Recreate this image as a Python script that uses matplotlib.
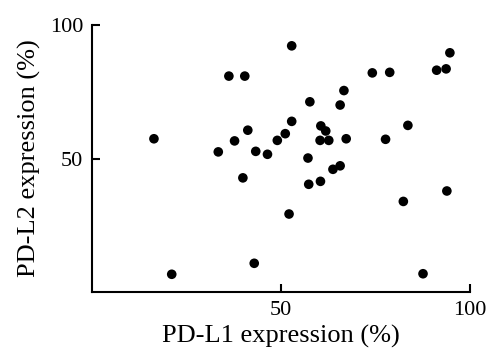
import matplotlib
matplotlib.use("Agg")
import matplotlib.pyplot as plt

pdl1 = [16.5, 36.3, 40.5, 41.3, 37.8, 33.5, 40.0, 52.9, 74.2, 78.8, 91.2, 93.7, 94.7,
        66.7, 57.7, 65.7, 52.9, 51.2, 49.1, 43.4, 46.5, 60.6, 61.9, 60.4, 62.7, 67.3,
        83.6, 77.7, 57.2, 65.7, 63.8, 57.4, 60.5, 93.9, 82.4, 52.2, 43.0, 87.6, 21.2]
pdl2 = [57.4, 80.8, 80.8, 60.6, 56.6, 52.5, 42.8, 92.1, 82.0, 82.2, 83.0, 83.5, 89.5,
        75.4, 71.2, 70.0, 63.9, 59.3, 56.8, 52.7, 51.6, 62.2, 60.3, 56.8, 56.8, 57.4,
        62.4, 57.2, 50.2, 47.3, 46.0, 40.4, 41.5, 37.9, 34.0, 29.3, 10.9, 7.0, 6.8]
ticks = [50, 100]

plt.rcParams['font.family'] = ['Liberation Serif', 'DejaVu Serif']

fig = plt.figure(figsize=(4.88, 3.51), dpi=100)
ax = fig.add_axes([0.1875, 0.1667, 0.7755, 0.763])
ax.scatter(pdl1, pdl2, s=48, c='black', edgecolors='none', zorder=3)
ax.set_xlim(0, 100)
ax.set_ylim(0, 100)
ax.set_xticks(ticks)
ax.set_yticks(ticks)
ax.spines['top'].set_visible(False)
ax.spines['right'].set_visible(False)
for sp in ['left', 'bottom']:
    ax.spines[sp].set_linewidth(1.5)
ax.tick_params(direction='in', length=5.5, width=1.5, labelsize=16, pad=6)
ax.set_xlabel('PD-L1 expression (%)', fontsize=19, labelpad=4)
ax.set_ylabel('PD-L2 expression (%)', fontsize=19, labelpad=6)
fig.savefig('out.png', dpi=100)
